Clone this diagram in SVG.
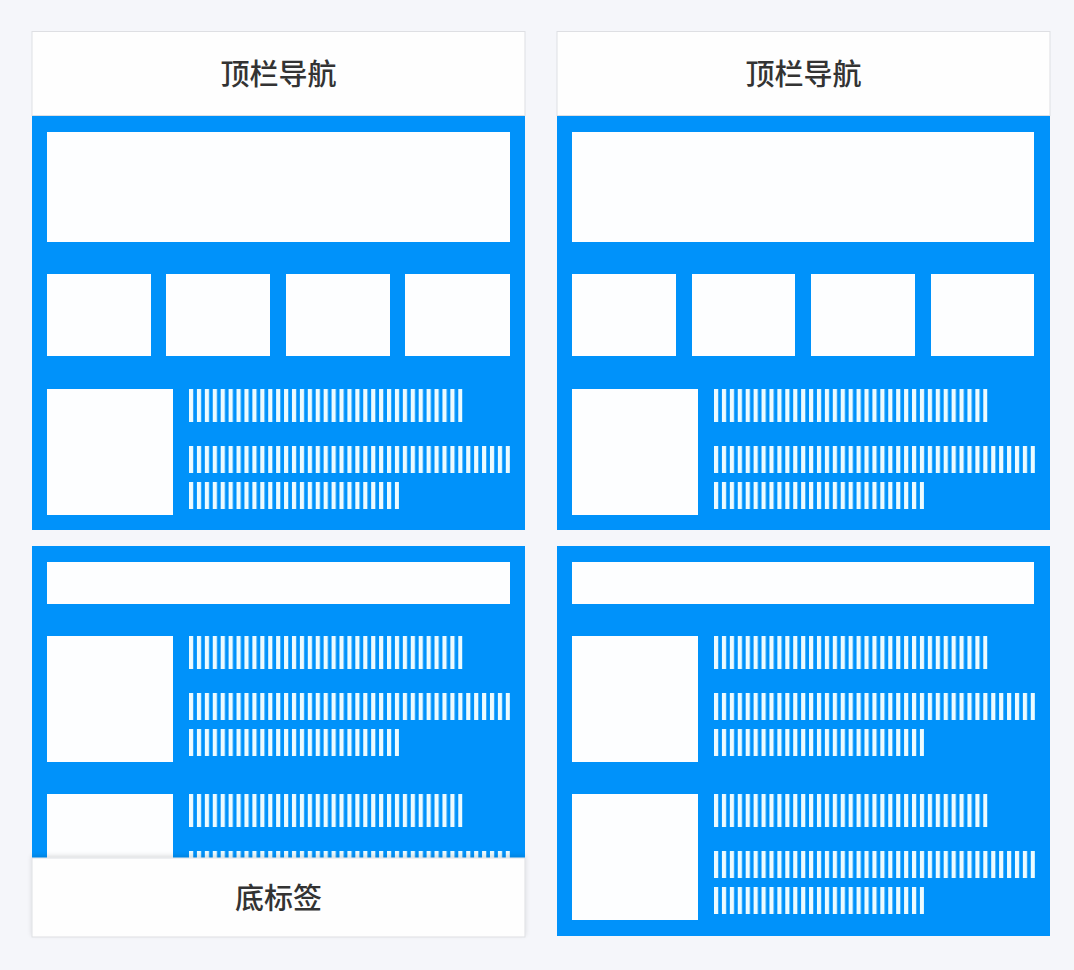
<svg xmlns="http://www.w3.org/2000/svg" width="1074" height="970" viewBox="0 0 1074 970">
<style>
.bg{fill:#f5f6fa}
.bar{fill:#fefefe;stroke:#dedfe3;stroke-width:1}
.blue{fill:#0092fa}
.box{fill:#fdfeff}
.st{fill:url(#stripes)}
.lbl{font-family:"Noto Sans CJK SC","Noto Sans",sans-serif;font-size:29px;font-weight:500;fill:#333;text-anchor:middle}
</style>
<defs>
<pattern id="stripes" patternUnits="userSpaceOnUse" x="0" y="0" width="7.92" height="10">
<rect x="0" y="0" width="4.2" height="10" fill="#ecfbff"/>
</pattern>
<filter id="shUp" x="-5%" y="-20%" width="110%" height="140%">
<feDropShadow dx="0" dy="-2" stdDeviation="2" flood-color="#000" flood-opacity="0.12"/>
</filter>
<g id="list">
<rect class="box" x="0" y="0" width="126" height="126"/>
<g transform="translate(142,0)">
<rect class="st" x="0" y="0" width="273.5" height="33"/>
<rect class="st" x="0" y="57" width="321" height="27"/>
<rect class="st" x="0" y="93" width="210" height="27"/>
</g>
</g>
</defs>
<rect class="bg" x="0" y="0" width="1074" height="970"/>

<g id="panel-left">
<rect class="blue" x="32" y="115" width="493" height="415"/>
<rect class="blue" x="32" y="546" width="493" height="312"/>
<g id="left-top-nav">
<rect class="bar" x="32" y="31.5" width="493" height="84"/>
<text class="lbl" x="278.5" y="85">顶栏导航</text>
</g>
<rect class="box" x="47" y="132" width="463" height="110"/>
<rect class="box" x="47" y="274" width="104" height="82"/>
<rect class="box" x="166" y="274" width="104" height="82"/>
<rect class="box" x="286" y="274" width="104" height="82"/>
<rect class="box" x="405" y="274" width="105" height="82"/>
<use href="#list" x="47" y="389"/>
<rect class="box" x="47" y="562" width="463" height="42"/>
<use href="#list" x="47" y="636"/>
<use href="#list" x="47" y="794"/>
<g id="left-bottom-tab">
<rect x="32" y="858" width="493" height="79" fill="#fefefe" stroke="#dedfe3" stroke-width="1" filter="url(#shUp)"/>
<text class="lbl" x="278.5" y="909">底标签</text>
</g>
</g>

<g id="panel-right">
<rect class="blue" x="557" y="115" width="493" height="415"/>
<rect class="blue" x="557" y="546" width="493" height="390"/>
<g id="right-top-nav">
<rect class="bar" x="557" y="31.5" width="493" height="84"/>
<text class="lbl" x="803.5" y="85">顶栏导航</text>
</g>
<rect class="box" x="572" y="132" width="462" height="110"/>
<rect class="box" x="572" y="274" width="104" height="82"/>
<rect class="box" x="692" y="274" width="103" height="82"/>
<rect class="box" x="811" y="274" width="104" height="82"/>
<rect class="box" x="931" y="274" width="103" height="82"/>
<use href="#list" x="572" y="389"/>
<rect class="box" x="572" y="562" width="462" height="42"/>
<use href="#list" x="572" y="636"/>
<use href="#list" x="572" y="794"/>
</g>
</svg>
